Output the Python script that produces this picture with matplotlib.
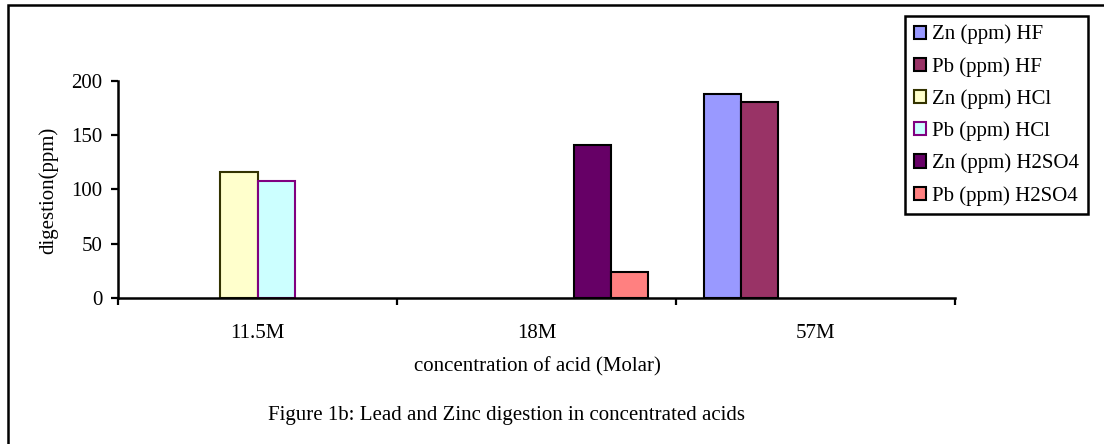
import numpy as np
import matplotlib
matplotlib.use("Agg")
import matplotlib.pyplot as plt
from matplotlib.patches import Rectangle

plt.rcParams['font.family'] = ['Liberation Serif', 'DejaVu Serif']

categories = ['11.5M', '18M', '57M']
series = ['Zn (ppm) HF', 'Pb (ppm) HF', 'Zn (ppm) HCl',
          'Pb (ppm) HCl', 'Zn (ppm) H2SO4', 'Pb (ppm) H2SO4']
zn_hf = [np.nan, np.nan, 188]
pb_hf = [np.nan, np.nan, 181]
zn_hcl = [116, np.nan, np.nan]
pb_hcl = [108, np.nan, np.nan]
zn_h2so4 = [np.nan, 141, np.nan]
pb_h2so4 = [np.nan, 24, np.nan]
values = [zn_hf, pb_hf, zn_hcl, pb_hcl, zn_h2so4, pb_h2so4]

colors = ['#9999FF', '#993366', '#FFFFCC', '#CCFFFF', '#660066', '#FF8080']
edges = ['black', 'black', '#333300', '#800080', 'black', 'black']

W, H = 1104, 444
fig = plt.figure(figsize=(W / 100, H / 100), dpi=100)
ax = fig.add_axes([118 / W, 1 - 298 / H, 837 / W, 217 / H])

w = 1 / 7.5
x = np.arange(len(categories))
for j, (name, vals) in enumerate(zip(series, values)):
    ax.bar(x + 0.75 * w + j * w, vals, width=w, align='edge',
           color=colors[j], edgecolor=edges[j], linewidth=1.5, label=name)

ax.set_xlim(0, 3)
ax.set_ylim(0, 200)
ax.set_yticks([0, 50, 100, 150, 200])
ax.set_xticks([0, 1, 2, 3])
ax.set_xticklabels([])
ax.set_xticks(x + 0.5, minor=True)
ax.set_xticklabels(categories, minor=True)
ax.tick_params(axis='x', which='major', direction='out', length=5, width=1.6)
ax.tick_params(axis='x', which='minor', length=0, pad=19, labelsize=15)
ax.tick_params(axis='y', direction='out', length=5, width=1.6, pad=6, labelsize=15)
for s in ['top', 'right']:
    ax.spines[s].set_visible(False)
for s in ['left', 'bottom']:
    ax.spines[s].set_linewidth(1.8)

fig.text(48 / W, 1 - 190 / H, 'digestion(ppm)', rotation=90,
         ha='center', va='center', fontsize=15)
fig.text(537 / W, 1 - 367 / H, 'concentration of acid (Molar)',
         ha='center', va='center', fontsize=15)
fig.text(506 / W, 1 - 415 / H,
         'Figure 1b: Lead and Zinc digestion in concentrated acids',
         ha='center', va='center', fontsize=15)

leg = fig.legend(loc='upper left', bbox_to_anchor=(905 / W, 1 - 16 / H),
                 fontsize=15, frameon=True, fancybox=False, shadow=False,
                 framealpha=1, handlelength=0.6, handleheight=0.6,
                 handletextpad=0.3, labelspacing=0.6, borderpad=0.42,
                 borderaxespad=0)
leg.get_frame().set_edgecolor('black')
leg.get_frame().set_linewidth(1.8)

# outer frame (only top and left edges fall inside the image)
fig.patches.append(Rectangle((8 / W, -0.2), 1.2, 1.2 - 5 / H,
                             transform=fig.transFigure, fill=False,
                             edgecolor='black', linewidth=1.8))

fig.savefig('out.png', dpi=100)
